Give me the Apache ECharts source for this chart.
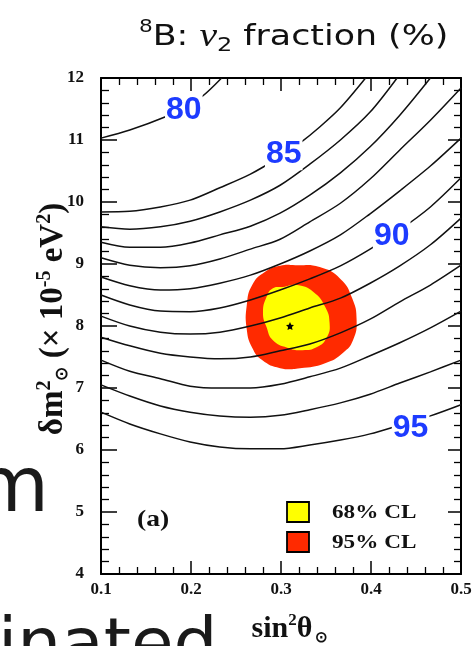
<!DOCTYPE html>
<html><head><meta charset="utf-8">
<script src="https://cdn.jsdelivr.net/npm/echarts/dist/echarts.min.js"></script>
<style>html,body{margin:0;padding:0;background:#fff}#c{width:475px;height:646px}</style>
</head><body><div id="c"></div>
<script>
// ---- data ----
const gridX = [0.100,0.132,0.166,0.199,0.232,0.266,0.299,0.332,0.366,0.399,0.432,0.466,0.500];
const level80 = [[0.100,11.03],[0.132,11.16],[0.171,11.37],[0.193,11.53],[0.213,11.71],[0.234,12.00]];
const level85 = [[0.100,9.84],[0.132,9.85],[0.166,9.92],[0.199,10.03],[0.232,10.23],[0.266,10.45],[0.299,10.73],[0.321,10.95],[0.343,11.21],[0.366,11.52],[0.394,12.00]];
const level86 = [[0.100,9.60],[0.132,9.56],[0.166,9.60],[0.199,9.69],[0.232,9.84],[0.266,10.03],[0.299,10.27],[0.332,10.61],[0.366,11.00],[0.399,11.45],[0.429,12.00]];
const level87 = [[0.100,9.35],[0.132,9.27],[0.166,9.27],[0.199,9.34],[0.232,9.47],[0.266,9.61],[0.299,9.82],[0.332,10.11],[0.366,10.47],[0.399,10.89],[0.432,11.40],[0.466,12.00]];
const level88 = [9.10,8.98,8.94,8.97,9.08,9.24,9.40,9.68,9.98,10.37,10.84,11.32,11.84];
const level89 = [8.79,8.65,8.58,8.60,8.69,8.82,9.00,9.21,9.47,9.81,10.18,10.58,11.03];
const level90 = [8.50,8.34,8.24,8.23,8.29,8.42,8.58,8.76,8.97,9.24,9.55,9.92,10.39];
const level91 = [8.16,8.00,7.90,7.87,7.90,8.00,8.13,8.29,8.45,8.69,8.97,9.31,9.74];
const level92 = [7.82,7.68,7.56,7.50,7.47,7.50,7.60,7.71,7.89,8.11,8.39,8.66,8.98];
const level93 = [7.45,7.27,7.15,7.03,7.00,7.00,7.06,7.18,7.32,7.52,7.73,7.97,8.24];
const level94 = [7.05,6.87,6.71,6.61,6.55,6.53,6.56,6.65,6.76,6.90,7.08,7.26,7.45];
const level95 = [6.61,6.42,6.26,6.13,6.05,6.02,6.02,6.08,6.16,6.26,6.40,6.55,6.73];

const labelText = ['80','85','90','95'];
const labelX = [0.192,0.303,0.423,0.444];
const labelY = [11.48,10.77,9.45,6.36];

const cl95 = [[0.316,8.98],[0.343,8.95],[0.366,8.76],[0.379,8.45],[0.384,8.10],[0.380,7.77],[0.369,7.57],[0.349,7.40],[0.321,7.32],[0.299,7.32],[0.279,7.45],[0.268,7.65],[0.262,7.94],[0.262,8.34],[0.268,8.66],[0.282,8.87],[0.299,8.97]];
const cl68 = [[0.302,8.63],[0.318,8.66],[0.336,8.55],[0.349,8.31],[0.354,8.05],[0.351,7.82],[0.340,7.66],[0.324,7.61],[0.307,7.65],[0.291,7.77],[0.284,7.98],[0.280,8.21],[0.284,8.47],[0.291,8.61]];
const bestFit = [0.31, 8.0];

// ---- build ----
const onGrid = ys => ys.map((y, i) => [gridX[i], y]);
const contours = [level80, level85, level86, level87, onGrid(level88), onGrid(level89), onGrid(level90),
  onGrid(level91), onGrid(level92), onGrid(level93), onGrid(level94), onGrid(level95)];

const SERIF = '"Liberation Serif","Times New Roman",serif';
const SANS = '"Liberation Sans",Arial,sans-serif';

const axisBase = {
  type: 'value',
  axisLine: {show: true, onZero: false, lineStyle: {color: '#000', width: 2}},
  axisTick: {show: true, inside: true, length: 13, lineStyle: {color: '#000', width: 1.5}},
  minorTick: {show: true, splitNumber: 5, length: 7, lineStyle: {color: '#000', width: 1.3}},
  splitLine: {show: false},
  nameMoveOverlap: false
};
const tickFont = {fontFamily: SERIF, fontWeight: 'bold', fontSize: 17, color: '#111'};

function polySeries(name, pts, color, z) {
  return {
    type: 'custom', name, z, silent: true,
    data: [bestFit],
    renderItem: (params, api) => ({
      type: 'polygon',
      shape: {points: pts.map(p => api.coord(p)), smooth: 0.5},
      style: {fill: color}
    })
  };
}

const series = [
  polySeries('95% CL', cl95, '#ff2a00', 1),
  polySeries('68% CL', cl68, '#ffff00', 2)
];
contours.forEach(c => series.push({
  type: 'line', data: c, smooth: 0.3, symbol: 'none', z: 3, silent: true,
  lineStyle: {color: '#111', width: 1.5}
}));
series.push({
  type: 'scatter', data: [bestFit], z: 4, silent: true,
  symbol: 'path://M0,-10L2.9,-4L9.5,-3.1L4.7,1.5L5.9,8.1L0,5L-5.9,8.1L-4.7,1.5L-9.5,-3.1L-2.9,-4Z',
  symbolSize: 8, itemStyle: {color: '#000', opacity: 1}
});
series.push({
  type: 'scatter', z: 5, silent: true, symbolSize: 1, itemStyle: {color: 'rgba(0,0,0,0)', opacity: 1},
  data: labelText.map((t, i) => [labelX[i], labelY[i], t]),
  label: {show: true, position: 'inside', formatter: p => p.data[2],
    fontFamily: SANS, fontWeight: 'bold', fontSize: 32, color: '#1d3bff',
    textBorderWidth: 0, opacity: 1,
    backgroundColor: '#fff', padding: [0, 1]}
});

const chart = echarts.init(document.getElementById('c'));
chart.setOption({
  backgroundColor: '#fff',
  animation: false,
  grid: {left: 101, right: 14, top: 78, bottom: 72, containLabel: false, outerBoundsMode: 'none'},
  xAxis: [
    Object.assign({}, axisBase, {position: 'bottom', min: 0.1, max: 0.5, interval: 0.1,
      axisLabel: Object.assign({margin: 7, formatter: v => v.toFixed(1)}, tickFont),
      name: '{t|sin}{sup|2}{t|θ}{sub|⊙}', nameLocation: 'middle', nameGap: 38,
      nameTextStyle: {fontFamily: SERIF, fontWeight: 'bold', fontSize: 30, color: '#111', padding: [0, 0, 0, 18],
        rich: {
          t: {fontFamily: SERIF, fontWeight: 'bold', fontSize: 30, color: '#111', lineHeight: 34},
          sup: {fontFamily: SERIF, fontWeight: 'bold', fontSize: 17, color: '#111', lineHeight: 17, verticalAlign: 'top'},
          sub: {fontFamily: SERIF, fontWeight: 'bold', fontSize: 15, color: '#111', lineHeight: 15, verticalAlign: 'bottom', padding: [0, 0, 0, 3]}
        }}}),
    Object.assign({}, axisBase, {position: 'top', min: 0.1, max: 0.5, interval: 0.1, axisLabel: {show: false}})
  ],
  yAxis: [
    Object.assign({}, axisBase, {position: 'left', min: 4, max: 12, interval: 1,
      axisTick: {show: true, inside: true, length: 16, lineStyle: {color: '#000', width: 1.5}},
      minorTick: {show: true, splitNumber: 5, length: 8, lineStyle: {color: '#000', width: 1.3}},
      axisLabel: Object.assign({margin: 17}, tickFont),
      name: '{t|δm}{sup|2}{sub|⊙}{t| (× 10}{sup|-5}{t| eV}{sup|2}{t|)}', nameLocation: 'middle', nameGap: 30,
      nameTextStyle: {fontFamily: SERIF, fontWeight: 'bold', fontSize: 33, color: '#111', padding: [0, 0, 0, 14],
        rich: {
          t: {fontFamily: SERIF, fontWeight: 'bold', fontSize: 33, color: '#111', lineHeight: 36},
          sup: {fontFamily: SERIF, fontWeight: 'bold', fontSize: 20, color: '#111', lineHeight: 20, verticalAlign: 'top'},
          sub: {fontFamily: SERIF, fontWeight: 'bold', fontSize: 17, color: '#111', lineHeight: 17, verticalAlign: 'bottom'}
        }}}),
    Object.assign({}, axisBase, {position: 'right', min: 4, max: 12, interval: 1, axisLabel: {show: false},
      axisTick: {show: true, inside: true, length: 13, lineStyle: {color: '#000', width: 1.5}}})
  ],
  graphic: [
    {type: 'text', x: 139, y: 37, scaleX: 1.2, z: 10,
      style: {text: '{sup|8}{t|B: }{nu|ν}{sub|2}{t| fraction (%)}', verticalAlign: 'middle', align: 'left',
        rich: {
          t: {fontFamily: '"DejaVu Sans"', fontSize: 29, fill: '#111', lineHeight: 38},
          nu: {fontFamily: SERIF, fontStyle: 'italic', fontSize: 33, fill: '#111', lineHeight: 38},
          sup: {fontFamily: '"DejaVu Sans"', fontSize: 18, fill: '#111', lineHeight: 18, verticalAlign: 'top'},
          sub: {fontFamily: '"DejaVu Sans"', fontSize: 20, fill: '#111', lineHeight: 20, verticalAlign: 'bottom'}
        }}},
    {type: 'rect', shape: {x: 287, y: 502, width: 22, height: 20}, style: {fill: '#ffff00', stroke: '#000', lineWidth: 1.8}, z: 10},
    {type: 'rect', shape: {x: 287, y: 532, width: 22, height: 20}, style: {fill: '#ff2a00', stroke: '#000', lineWidth: 1.8}, z: 10},
    {type: 'text', x: 332, y: 513, scaleX: 1.22, z: 10,
      style: {text: '68% CL', font: 'bold 19px ' + SERIF, fill: '#111', verticalAlign: 'middle', align: 'left'}},
    {type: 'text', x: 332, y: 543, scaleX: 1.22, z: 10,
      style: {text: '95% CL', font: 'bold 19px ' + SERIF, fill: '#111', verticalAlign: 'middle', align: 'left'}},
    {type: 'text', x: 137, y: 520, scaleX: 1.2, z: 10,
      style: {text: '(a)', font: 'bold 23px ' + SERIF, fill: '#111', verticalAlign: 'middle', align: 'left'}},
    {type: 'text', x: -26, y: 491, z: 10,
      style: {text: 'm', font: '77px "DejaVu Sans"', fill: '#1a1a1a', verticalAlign: 'middle', align: 'left'}},
    {type: 'text', x: -2, y: 648, scaleX: 1.02, z: 10,
      style: {text: 'inated', font: '68px "DejaVu Sans"', fill: '#1a1a1a', verticalAlign: 'middle', align: 'left'}}
  ],
  series
});
</script></body></html>
